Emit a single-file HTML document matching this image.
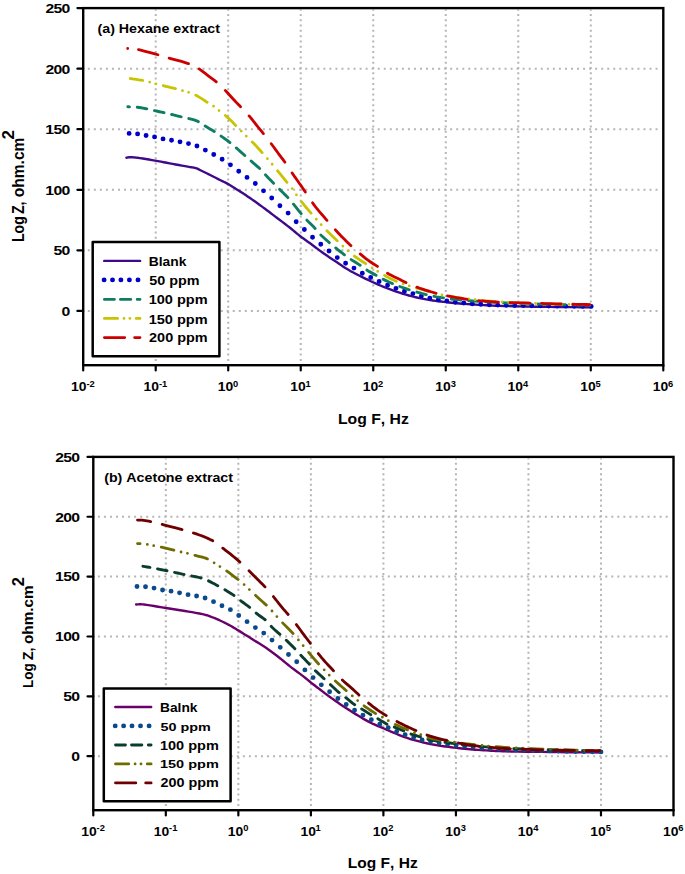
<!DOCTYPE html>
<html><head><meta charset="utf-8"><style>
html,body{margin:0;padding:0;background:#fff;}
svg{display:block;}
text{font-family:"Liberation Sans", sans-serif;font-weight:bold;font-kerning:none;}
</style></head><body>
<svg width="685" height="874" viewBox="0 0 685 874">
<rect width="685" height="874" fill="#fff"/>
<line x1="81.75" y1="310.90" x2="661.30" y2="310.90" stroke="#b6b6b6" stroke-width="2" stroke-dasharray="2 4.04"/>
<line x1="81.75" y1="250.34" x2="661.30" y2="250.34" stroke="#b6b6b6" stroke-width="2" stroke-dasharray="2 4.04"/>
<line x1="81.75" y1="189.78" x2="661.30" y2="189.78" stroke="#b6b6b6" stroke-width="2" stroke-dasharray="2 4.04"/>
<line x1="81.75" y1="129.22" x2="661.30" y2="129.22" stroke="#b6b6b6" stroke-width="2" stroke-dasharray="2 4.04"/>
<line x1="81.75" y1="68.66" x2="661.30" y2="68.66" stroke="#b6b6b6" stroke-width="2" stroke-dasharray="2 4.04"/>
<line x1="155.71" y1="366.20" x2="155.71" y2="9.60" stroke="#b6b6b6" stroke-width="2" stroke-dasharray="2 3.307"/>
<line x1="228.22" y1="366.20" x2="228.22" y2="9.60" stroke="#b6b6b6" stroke-width="2" stroke-dasharray="2 3.307"/>
<line x1="300.74" y1="366.20" x2="300.74" y2="9.60" stroke="#b6b6b6" stroke-width="2" stroke-dasharray="2 3.307"/>
<line x1="373.25" y1="366.20" x2="373.25" y2="9.60" stroke="#b6b6b6" stroke-width="2" stroke-dasharray="2 3.307"/>
<line x1="445.76" y1="366.20" x2="445.76" y2="9.60" stroke="#b6b6b6" stroke-width="2" stroke-dasharray="2 3.307"/>
<line x1="518.27" y1="366.20" x2="518.27" y2="9.60" stroke="#b6b6b6" stroke-width="2" stroke-dasharray="2 3.307"/>
<line x1="590.79" y1="366.20" x2="590.79" y2="9.60" stroke="#b6b6b6" stroke-width="2" stroke-dasharray="2 3.307"/>
<line x1="91.85" y1="756.20" x2="671.50" y2="756.20" stroke="#b6b6b6" stroke-width="2" stroke-dasharray="2 4.04"/>
<line x1="91.85" y1="696.34" x2="671.50" y2="696.34" stroke="#b6b6b6" stroke-width="2" stroke-dasharray="2 4.04"/>
<line x1="91.85" y1="636.48" x2="671.50" y2="636.48" stroke="#b6b6b6" stroke-width="2" stroke-dasharray="2 4.04"/>
<line x1="91.85" y1="576.62" x2="671.50" y2="576.62" stroke="#b6b6b6" stroke-width="2" stroke-dasharray="2 4.04"/>
<line x1="91.85" y1="516.76" x2="671.50" y2="516.76" stroke="#b6b6b6" stroke-width="2" stroke-dasharray="2 4.04"/>
<line x1="165.82" y1="811.20" x2="165.82" y2="458.40" stroke="#b6b6b6" stroke-width="2" stroke-dasharray="2 3.25"/>
<line x1="238.35" y1="811.20" x2="238.35" y2="458.40" stroke="#b6b6b6" stroke-width="2" stroke-dasharray="2 3.25"/>
<line x1="310.88" y1="811.20" x2="310.88" y2="458.40" stroke="#b6b6b6" stroke-width="2" stroke-dasharray="2 3.25"/>
<line x1="383.40" y1="811.20" x2="383.40" y2="458.40" stroke="#b6b6b6" stroke-width="2" stroke-dasharray="2 3.25"/>
<line x1="455.93" y1="811.20" x2="455.93" y2="458.40" stroke="#b6b6b6" stroke-width="2" stroke-dasharray="2 3.25"/>
<line x1="528.45" y1="811.20" x2="528.45" y2="458.40" stroke="#b6b6b6" stroke-width="2" stroke-dasharray="2 3.25"/>
<line x1="600.98" y1="811.20" x2="600.98" y2="458.40" stroke="#b6b6b6" stroke-width="2" stroke-dasharray="2 3.25"/>
<path d="M126.40,157.70 L127.07,157.61 L127.73,157.50 L128.38,157.40 L129.05,157.30 L129.75,157.24 L130.50,157.20 L131.52,157.21 L132.58,157.26 L133.69,157.36 L134.87,157.48 L136.13,157.63 L137.50,157.80 L139.96,158.13 L142.75,158.55 L145.76,159.03 L148.88,159.55 L151.99,160.08 L155.00,160.60 L157.93,161.12 L160.87,161.67 L163.80,162.23 L166.74,162.79 L169.67,163.35 L172.60,163.90 L175.63,164.46 L178.80,165.04 L181.96,165.62 L184.99,166.17 L187.75,166.67 L190.10,167.10 L191.21,167.28 L192.19,167.42 L193.09,167.54 L193.94,167.67 L194.80,167.85 L195.70,168.10 L196.74,168.47 L197.79,168.92 L198.84,169.42 L199.89,169.95 L200.95,170.49 L202.00,171.00 L203.04,171.49 L204.06,171.98 L205.08,172.47 L206.13,172.98 L207.23,173.52 L208.40,174.10 L210.16,174.98 L212.09,175.96 L214.11,177.00 L216.16,178.04 L218.14,179.06 L220.00,180.00 L221.44,180.72 L222.82,181.38 L224.17,182.03 L225.49,182.68 L226.83,183.36 L228.20,184.10 L229.75,184.99 L231.33,185.94 L232.92,186.93 L234.51,187.93 L236.07,188.93 L237.60,189.90 L238.98,190.77 L240.33,191.62 L241.66,192.47 L242.99,193.32 L244.33,194.19 L245.70,195.10 L247.23,196.13 L248.78,197.19 L250.35,198.27 L251.93,199.37 L253.52,200.48 L255.10,201.60 L256.75,202.77 L258.41,203.97 L260.07,205.18 L261.73,206.39 L263.38,207.60 L265.00,208.80 L266.50,209.92 L267.94,211.00 L269.37,212.08 L270.83,213.19 L272.36,214.35 L274.00,215.60 L276.45,217.45 L279.14,219.48 L281.96,221.61 L284.79,223.76 L287.51,225.85 L290.00,227.80 L291.80,229.25 L293.48,230.64 L295.09,232.00 L296.68,233.33 L298.30,234.66 L300.00,236.00 L301.88,237.42 L303.82,238.84 L305.78,240.25 L307.76,241.66 L309.74,243.08 L311.70,244.50 L313.65,245.95 L315.60,247.42 L317.54,248.89 L319.49,250.35 L321.44,251.79 L323.40,253.20 L325.32,254.54 L327.25,255.85 L329.19,257.15 L331.12,258.43 L333.06,259.71 L335.00,261.00 L336.97,262.33 L338.98,263.70 L340.99,265.07 L342.97,266.40 L344.89,267.66 L346.70,268.80 L348.00,269.58 L349.20,270.28 L350.35,270.94 L351.53,271.58 L352.79,272.26 L354.20,273.00 L356.52,274.21 L359.10,275.53 L361.85,276.92 L364.69,278.32 L367.53,279.69 L370.30,281.00 L372.95,282.23 L375.58,283.43 L378.22,284.61 L380.88,285.76 L383.60,286.89 L386.40,288.00 L389.57,289.20 L392.87,290.40 L396.22,291.56 L399.58,292.68 L402.90,293.74 L406.10,294.70 L408.85,295.48 L411.53,296.19 L414.18,296.85 L416.81,297.47 L419.44,298.05 L422.10,298.60 L424.77,299.12 L427.45,299.59 L430.14,300.03 L432.83,300.44 L435.51,300.83 L438.20,301.20 L440.87,301.55 L443.53,301.88 L446.20,302.18 L448.86,302.47 L451.53,302.74 L454.20,303.00 L456.88,303.25 L459.56,303.48 L462.24,303.70 L464.93,303.91 L467.62,304.11 L470.30,304.30 L473.00,304.49 L475.72,304.67 L478.43,304.84 L481.13,305.00 L483.79,305.16 L486.40,305.30 L488.67,305.42 L490.82,305.53 L492.94,305.63 L495.11,305.72 L497.44,305.81 L500.00,305.90 L504.32,306.03 L509.13,306.16 L514.27,306.28 L519.57,306.40 L524.86,306.50 L530.00,306.60 L535.00,306.69 L539.99,306.76 L544.98,306.83 L549.97,306.89 L554.98,306.94 L560.00,307.00 L565.11,307.06 L570.24,307.11 L575.37,307.16 L580.52,307.20 L585.66,307.25 L590.80,307.30" fill="none" stroke="#3f0a8a" stroke-width="2.4" stroke-linejoin="round" stroke-linecap="round"/>
<path d="M129.10,133.40l0.01,0M137.59,133.91l0.01,0M146.08,135.43l0.01,0M154.56,136.91l0.01,0M163.03,138.92l0.01,0M171.52,140.32l0.01,0M180.00,141.84l0.01,0M188.48,143.62l0.01,0M196.94,146.00l0.01,0M205.35,150.08l0.01,0M213.73,154.57l0.01,0M222.11,159.31l0.01,0M230.44,164.84l0.01,0M238.72,171.21l0.01,0M247.01,177.38l0.01,0M255.30,183.54l0.01,0M263.50,190.87l0.01,0M271.72,198.02l0.01,0M279.89,205.82l0.01,0M288.10,213.12l0.01,0M296.18,221.78l0.01,0M304.36,229.51l0.01,0M312.53,237.19l0.01,0M320.76,244.19l0.01,0M329.01,250.95l0.01,0M337.27,257.60l0.01,0M345.59,263.32l0.01,0M353.96,268.10l0.01,0M362.31,273.32l0.01,0M370.71,277.55l0.01,0M379.12,281.51l0.01,0M387.54,285.22l0.01,0M395.98,288.36l0.01,0M404.43,291.28l0.01,0M412.90,293.59l0.01,0M421.36,296.12l0.01,0M429.83,298.11l0.01,0M438.31,299.82l0.01,0M446.80,301.04l0.01,0M455.29,302.23l0.01,0M463.78,303.02l0.01,0M472.27,303.71l0.01,0M480.76,304.30l0.01,0M489.26,304.80l0.01,0M497.75,305.10l0.01,0M506.25,305.29l0.01,0M514.74,305.45l0.01,0M523.24,305.59l0.01,0M531.73,305.73l0.01,0M540.23,305.85l0.01,0M548.72,305.96l0.01,0M557.22,306.07l0.01,0M565.71,306.16l0.01,0M574.20,306.24l0.01,0M582.70,306.32l0.01,0M591.19,306.40l0.01,0" fill="none" stroke="#0000cc" stroke-width="4.9" stroke-linejoin="round" stroke-linecap="round"/>
<path d="M127.84,106.73 L128.38,106.78 L129.37,106.87 L129.47,106.88M137.24,107.28 L137.50,107.30 L139.16,107.51 L141.05,107.79 L143.05,108.13 L145.05,108.50 L146.82,108.84M154.45,110.62 L155.56,110.87 L157.46,111.28 L159.47,111.71 L161.47,112.13 L163.36,112.54 L164.01,112.68M171.64,114.50 L173.39,114.93 L175.30,115.40 L177.22,115.87 L179.05,116.31 L180.70,116.70 L181.17,116.80M188.80,118.55 L190.16,118.89 L192.14,119.40 L194.09,119.96 L195.91,120.56 L197.50,121.20 L198.31,121.62M205.18,126.11 L205.99,126.59 L207.97,127.74 L209.97,128.91 L211.88,130.04 L213.60,131.10 L214.26,131.53M221.07,136.13 L221.44,136.39 L222.93,137.40 L224.46,138.46 L226.05,139.58 L227.69,140.79 L229.40,142.10 L229.91,142.52M236.31,147.96 L237.79,149.27 L240.70,151.86 L243.39,154.26 L244.77,155.48M251.12,161.00 L251.80,161.60 L253.45,163.04 L255.29,164.63 L257.20,166.30 L259.09,167.96 L259.63,168.46M265.49,174.75 L265.64,174.93 L266.40,175.80 L267.70,177.22 L269.15,178.75 L270.70,180.37 L272.33,182.05 L273.58,183.33M279.62,189.37 L279.86,189.61 L282.06,191.73 L284.28,193.91 L286.47,196.13 L287.84,197.59M293.52,204.19 L295.31,206.41 L297.45,209.10 L299.44,211.57 L301.15,213.64M306.90,220.13 L307.44,220.70 L308.94,222.20 L310.51,223.75 L312.08,225.30 L313.57,226.80 L314.90,228.20 L315.11,228.44M320.86,234.96 L321.11,235.21 L322.71,236.72 L324.42,238.28 L326.14,239.82 L327.79,241.28 L329.30,242.60 L329.30,242.60M335.73,247.99 L336.58,248.67 L338.34,250.07 L340.19,251.51 L342.04,252.95 L343.81,254.30 L344.44,254.78M351.15,259.60 L352.70,260.61 L354.62,261.83 L356.65,263.10 L358.68,264.37 L360.16,265.31M366.92,270.05 L367.90,270.70 L369.47,271.64 L371.23,272.62 L373.09,273.62 L374.94,274.60 L376.08,275.20M383.14,279.20 L383.90,279.60 L385.42,280.37 L387.06,281.16 L388.79,281.97 L390.60,282.79 L392.42,283.57M399.81,286.50 L401.86,287.25 L404.52,288.19 L407.24,289.11 L409.24,289.76M416.78,292.07 L419.82,292.94 L423.22,293.86 L426.29,294.63M433.94,296.30 L436.65,296.81 L439.98,297.36 L443.32,297.87 L443.52,297.90M451.24,298.96 L453.28,299.21 L456.51,299.58 L459.74,299.91 L460.85,300.01M468.61,300.69 L470.00,300.80 L474.65,301.15 L478.22,301.39M485.99,301.86 L489.77,302.07 L494.93,302.34 L495.61,302.38M503.38,302.76 L505.00,302.84 L510.00,303.06 L513.00,303.18M520.77,303.48 L525.00,303.63 L530.00,303.80 L530.39,303.81M538.16,304.05 L539.98,304.10 L544.97,304.24 L547.79,304.31M555.56,304.50 L560.00,304.60 L565.11,304.71 L565.19,304.71M572.96,304.87 L575.37,304.91 L580.52,305.01 L582.59,305.05M589.85,305.18l0.01,0" fill="none" stroke="#0e7d62" stroke-width="2.9" stroke-linejoin="round" stroke-linecap="round"/>
<path d="M130.29,78.52 L131.26,78.65 L132.40,78.82 L133.60,79.01 L134.81,79.21 L136.00,79.40 L137.30,79.60 L138.64,79.81 L140.00,80.02 L141.35,80.24 L142.65,80.46M149.71,82.08l0.01,0M155.87,83.87l0.01,0M163.21,85.71 L165.64,86.29 L168.28,86.92 L170.93,87.55 L173.40,88.16 L175.48,88.69M182.47,90.71l0.01,0M188.65,92.33l0.01,0M195.76,95.16 L196.47,95.54 L197.65,96.21 L198.83,96.90 L200.00,97.60 L201.21,98.35 L202.43,99.13 L203.64,99.94 L204.84,100.75 L206.03,101.55 L207.15,102.27M213.59,106.21l0.01,0M218.99,110.54l0.01,0M225.36,115.46 L226.42,116.36 L227.55,117.37 L228.68,118.41 L229.80,119.47 L230.91,120.54 L232.00,121.60 L233.05,122.66 L234.09,123.75 L235.11,124.84 L235.66,125.43M241.26,131.03l0.01,0M246.25,136.15l0.01,0M252.18,141.93 L253.04,142.74 L254.10,143.80 L255.83,145.62 L257.76,147.73 L259.79,149.99 L261.79,152.23 L262.11,152.60M267.44,158.64l0.01,0M272.14,164.24l0.01,0M277.55,170.76 L278.00,171.30 L279.53,173.17 L281.34,175.39 L283.28,177.77 L285.21,180.16 L286.98,182.34M292.15,188.60l0.01,0M296.42,194.78l0.01,0M301.49,201.74 L302.87,203.47 L304.60,205.59 L306.39,207.73 L308.23,209.90 L310.10,212.10 L311.03,213.18M316.31,219.27l0.01,0M321.15,224.66l0.01,0M326.90,230.71 L327.93,231.76 L330.04,233.87 L332.17,235.96 L334.35,238.06 L336.60,240.20 L337.18,240.76M342.91,246.19l0.01,0M348.11,250.93l0.01,0M354.40,256.06 L355.11,256.61 L357.63,258.39 L360.16,260.10 L362.71,261.77 L365.29,263.42 L365.67,263.67M372.05,267.79l0.01,0M377.73,271.40l0.01,0M384.52,275.40 L384.70,275.50 L387.23,276.87 L389.72,278.16 L392.21,279.39 L394.72,280.57 L396.28,281.25M403.11,283.94l0.01,0M409.24,285.90l0.01,0M416.54,288.00 L416.62,288.03 L420.00,289.00 L423.33,289.98 L426.65,290.96 L428.73,291.56M435.73,293.48l0.01,0M441.94,294.90l0.01,0M449.36,296.24 L449.98,296.34 L453.32,296.84 L456.66,297.33 L460.00,297.80 L461.73,298.04M468.87,298.97l0.01,0M475.15,299.69l0.01,0M482.61,300.45 L483.28,300.52 L486.51,300.80 L489.74,301.07 L493.03,301.32 L495.02,301.46M502.19,301.93l0.01,0M508.49,302.30l0.01,0M515.97,302.68 L519.77,302.86 L524.93,303.09 L528.39,303.23M535.57,303.51l0.01,0M541.87,303.71l0.01,0M549.36,303.92 L549.97,303.94 L554.98,304.07 L560.00,304.20 L561.79,304.25M568.96,304.42l0.01,0M575.26,304.56l0.01,0M582.75,304.72 L585.66,304.79 L589.40,304.87" fill="none" stroke="#c8c400" stroke-width="2.8" stroke-linejoin="round" stroke-linecap="round"/>
<path d="M127.68,48.51l0.01,0M138.48,49.64 L139.78,49.92 L143.32,50.79 L147.22,51.82 L151.18,52.90 L154.87,53.92 L157.89,54.77M169.14,58.09 L169.86,58.29 L173.56,59.29 L177.53,60.36 L181.50,61.46 L185.18,62.56 L188.30,63.60 L188.48,63.67M199.15,68.90 L200.15,69.59 L201.84,70.84 L203.54,72.14 L205.26,73.47 L207.00,74.80 L208.97,76.27 L211.02,77.78 L213.09,79.32 L215.12,80.89 L216.27,81.80M225.28,90.39 L225.51,90.63 L226.80,92.00 L228.16,93.46 L229.51,94.94 L230.86,96.45 L232.22,97.96 L233.60,99.48 L235.00,101.00 L236.53,102.60 L238.10,104.21 L239.70,105.84 L240.55,106.70M249.11,115.93 L250.17,117.16 L251.30,118.50 L252.43,119.88 L253.53,121.27 L254.62,122.67 L255.72,124.09 L256.84,125.53 L258.00,127.00 L259.36,128.69 L260.79,130.45 L262.24,132.23 L263.39,133.64M271.24,143.72 L272.20,145.00 L273.30,146.49 L274.42,148.02 L275.56,149.58 L276.70,151.15 L277.85,152.73 L279.00,154.30 L280.20,155.92 L281.44,157.56 L282.69,159.21 L283.91,160.84 L284.93,162.22M292.12,173.00 L293.00,174.28 L293.98,175.69 L294.98,177.11 L295.99,178.55 L297.00,180.00 L298.10,181.57 L299.23,183.18 L300.37,184.80 L301.50,186.42 L302.62,188.02 L303.70,189.60 L304.66,191.04 L305.33,192.06M312.55,202.81 L313.65,204.35 L314.80,205.93 L316.00,207.50 L317.35,209.19 L318.77,210.89 L320.23,212.59 L321.70,214.28 L323.13,215.92 L324.50,217.50 L325.62,218.80 L326.68,220.05 L326.96,220.37M335.35,229.82 L335.38,229.85 L336.91,231.52 L338.46,233.18 L340.00,234.80 L341.55,236.41 L343.12,238.01 L344.71,239.61 L346.29,241.18 L347.86,242.72 L349.40,244.20 L350.74,245.48 L350.93,245.65M360.17,253.89 L360.78,254.41 L362.55,255.90 L364.35,257.38 L366.17,258.82 L368.00,260.20 L369.83,261.50 L371.72,262.76 L373.62,263.98 L375.51,265.18 L377.35,266.35 L377.45,266.42M387.49,273.27 L389.17,274.21 L391.30,275.34 L393.52,276.45 L395.76,277.54 L397.94,278.59 L400.00,279.60 L401.63,280.41 L403.21,281.20 L404.75,281.96 L405.98,282.56M416.88,287.15 L418.10,287.60 L419.84,288.22 L421.64,288.84 L423.47,289.45 L425.32,290.05 L427.17,290.64 L429.00,291.20 L430.81,291.74 L432.64,292.28 L434.46,292.79 L436.13,293.25M447.50,295.88 L448.60,296.10 L450.42,296.46 L452.31,296.82 L454.24,297.19 L456.18,297.54 L458.11,297.88 L460.00,298.20 L461.76,298.48 L463.52,298.75 L465.26,299.01 L466.98,299.26 L467.13,299.28M478.66,300.64 L480.13,300.78 L482.07,300.95 L484.07,301.13 L486.08,301.30 L488.08,301.46 L490.00,301.60 L491.65,301.72 L493.19,301.83 L494.71,301.92 L496.30,302.02 L498.03,302.11 L498.44,302.13M510.02,302.55 L514.02,302.66 L519.45,302.81 L524.88,302.95 L529.83,303.09M541.42,303.45 L545.39,303.57 L550.49,303.72 L555.60,303.87 L560.70,304.00 L561.22,304.01M572.81,304.26 L575.95,304.32 L581.04,304.41 L586.12,304.50 L589.80,304.57" fill="none" stroke="#cc0000" stroke-width="2.8" stroke-linejoin="round" stroke-linecap="round"/>
<path d="M136.10,604.50 L136.75,604.46 L137.40,604.42 L138.05,604.38 L138.70,604.34 L139.35,604.31 L140.00,604.30 L140.63,604.30 L141.21,604.31 L141.80,604.33 L142.43,604.36 L143.15,604.42 L144.00,604.50 L146.65,604.84 L150.06,605.36 L153.95,606.00 L158.06,606.70 L162.13,607.38 L165.90,608.00 L169.15,608.51 L172.34,608.99 L175.50,609.47 L178.64,609.96 L181.80,610.46 L185.00,611.00 L188.46,611.59 L192.09,612.19 L195.73,612.82 L199.24,613.46 L202.48,614.12 L205.30,614.80 L206.81,615.23 L208.17,615.67 L209.42,616.11 L210.61,616.56 L211.79,617.02 L213.00,617.50 L214.18,617.97 L215.32,618.43 L216.46,618.91 L217.60,619.41 L218.77,619.94 L220.00,620.50 L221.58,621.24 L223.24,622.04 L224.95,622.88 L226.67,623.75 L228.37,624.63 L230.00,625.50 L231.46,626.31 L232.86,627.12 L234.24,627.94 L235.63,628.78 L237.07,629.66 L238.60,630.60 L240.66,631.87 L242.84,633.23 L245.10,634.65 L247.41,636.10 L249.72,637.56 L252.00,639.00 L254.32,640.44 L256.66,641.87 L259.00,643.30 L261.35,644.76 L263.68,646.26 L266.00,647.80 L268.39,649.46 L270.79,651.20 L273.18,652.97 L275.54,654.75 L277.82,656.51 L280.00,658.20 L281.77,659.61 L283.44,660.99 L285.06,662.34 L286.66,663.69 L288.30,665.04 L290.00,666.40 L291.89,667.84 L293.82,669.28 L295.79,670.72 L297.77,672.16 L299.75,673.62 L301.70,675.10 L303.69,676.66 L305.70,678.28 L307.71,679.91 L309.69,681.52 L311.59,683.06 L313.40,684.50 L314.75,685.55 L316.02,686.53 L317.25,687.47 L318.47,688.40 L319.71,689.33 L321.00,690.30 L322.44,691.39 L323.89,692.48 L325.37,693.59 L326.88,694.71 L328.42,695.85 L330.00,697.00 L331.88,698.35 L333.85,699.76 L335.87,701.18 L337.88,702.59 L339.84,703.94 L341.70,705.20 L343.14,706.16 L344.51,707.06 L345.85,707.92 L347.17,708.77 L348.52,709.62 L349.90,710.50 L351.40,711.46 L352.92,712.42 L354.46,713.39 L356.02,714.36 L357.59,715.33 L359.20,716.30 L360.92,717.32 L362.65,718.35 L364.41,719.38 L366.21,720.39 L368.07,721.40 L370.00,722.40 L372.36,723.54 L374.86,724.67 L377.44,725.79 L380.03,726.89 L382.57,727.96 L385.00,729.00 L387.03,729.88 L389.00,730.74 L390.93,731.58 L392.84,732.40 L394.76,733.21 L396.70,734.00 L398.64,734.78 L400.59,735.55 L402.53,736.30 L404.48,737.03 L406.44,737.73 L408.40,738.40 L410.35,739.02 L412.32,739.61 L414.30,740.17 L416.26,740.70 L418.20,741.21 L420.10,741.70 L421.78,742.13 L423.40,742.53 L425.00,742.92 L426.62,743.29 L428.27,743.65 L430.00,744.00 L432.07,744.40 L434.21,744.78 L436.40,745.15 L438.63,745.51 L440.90,745.86 L443.20,746.20 L445.77,746.56 L448.41,746.92 L451.10,747.26 L453.80,747.59 L456.51,747.90 L459.20,748.20 L461.88,748.48 L464.56,748.76 L467.24,749.01 L469.93,749.26 L472.61,749.48 L475.30,749.70 L478.00,749.90 L480.72,750.08 L483.43,750.25 L486.13,750.41 L488.79,750.56 L491.40,750.70 L493.64,750.82 L495.72,750.93 L497.78,751.03 L499.92,751.12 L502.29,751.21 L505.00,751.30 L510.95,751.45 L517.96,751.58 L525.69,751.70 L533.82,751.80 L542.03,751.90 L550.00,752.00 L558.32,752.10 L566.76,752.19 L575.30,752.27 L583.88,752.34 L592.46,752.42 L601.00,752.50" fill="none" stroke="#6a006a" stroke-width="2.4" stroke-linejoin="round" stroke-linecap="round"/>
<path d="M137.00,586.50l0.01,0M145.52,586.78l0.01,0M154.03,588.11l0.01,0M162.54,589.93l0.01,0M171.05,591.13l0.01,0M179.56,592.83l0.01,0M188.06,594.65l0.01,0M196.57,596.04l0.01,0M205.07,597.97l0.01,0M213.52,601.67l0.01,0M221.95,605.73l0.01,0M230.39,609.63l0.01,0M238.73,615.50l0.01,0M247.05,621.63l0.01,0M255.38,627.60l0.01,0M263.74,633.08l0.01,0M272.00,640.10l0.01,0M280.24,647.36l0.01,0M288.48,654.52l0.01,0M296.72,661.80l0.01,0M304.89,669.89l0.01,0M313.09,677.60l0.01,0M321.33,684.83l0.01,0M329.60,691.68l0.01,0M337.88,698.45l0.01,0M346.20,704.49l0.01,0M354.55,710.27l0.01,0M362.94,715.13l0.01,0M371.35,719.65l0.01,0M379.77,724.19l0.01,0M388.22,727.73l0.01,0M396.67,731.49l0.01,0M405.13,734.66l0.01,0M413.61,737.61l0.01,0M422.10,739.90l0.01,0M430.61,741.54l0.01,0M439.12,742.92l0.01,0M447.64,744.17l0.01,0M456.15,745.28l0.01,0M464.67,746.25l0.01,0M473.18,747.09l0.01,0M481.70,747.84l0.01,0M490.22,748.48l0.01,0M498.74,749.01l0.01,0M507.26,749.46l0.01,0M515.78,749.85l0.01,0M524.30,750.17l0.01,0M532.82,750.44l0.01,0M541.35,750.67l0.01,0M549.87,750.90l0.01,0M558.39,751.10l0.01,0M566.91,751.28l0.01,0M575.43,751.44l0.01,0M583.95,751.59l0.01,0M592.47,751.74l0.01,0M600.99,751.90l0.01,0" fill="none" stroke="#0a4a8c" stroke-width="4.9" stroke-linejoin="round" stroke-linecap="round"/>
<path d="M142.93,566.32 L143.32,566.38 L145.19,566.67 L147.06,566.96 L148.88,567.24 L149.91,567.41M157.54,568.90 L158.00,569.00 L159.70,569.34 L161.61,569.72 L163.62,570.11 L165.62,570.50 L167.00,570.78M174.61,572.38 L175.43,572.56 L177.31,572.99 L179.32,573.45 L181.33,573.91 L183.24,574.34 L184.05,574.52M191.68,576.00 L191.76,576.02 L193.64,576.37 L195.64,576.75 L197.64,577.15 L199.53,577.57 L201.14,577.98M208.53,580.86 L210.46,581.84 L212.58,582.95 L214.69,584.09 L216.67,585.17 L217.75,585.75M224.85,589.68 L225.38,590.00 L227.29,591.15 L229.32,592.40 L231.32,593.67 L233.19,594.89 L233.99,595.44M240.66,600.68 L241.18,601.08 L243.15,602.52 L245.26,604.06 L247.38,605.62 L249.37,607.13 L249.66,607.36M256.11,613.08 L256.60,613.50 L258.16,614.71 L259.93,615.97 L261.80,617.27 L263.65,618.59 L265.17,619.74M271.18,626.29 L272.00,627.20 L273.38,628.55 L274.92,629.97 L276.54,631.40 L278.18,632.83 L279.76,634.21 L279.94,634.37M286.29,640.22 L287.00,640.90 L288.49,642.34 L290.12,643.94 L291.80,645.61 L293.47,647.28 L294.88,648.72M300.87,655.28 L301.99,656.47 L303.45,658.00 L304.99,659.59 L306.54,661.19 L308.00,662.72 L309.30,664.10 L309.38,664.19M315.41,670.69 L316.90,672.11 L318.74,673.83 L320.59,675.55 L322.35,677.16 L323.90,678.60 L324.11,678.79M330.44,684.65 L331.90,686.03 L333.48,687.52 L335.09,689.03 L336.68,690.48 L338.20,691.80 L339.14,692.58M345.80,697.71 L347.06,698.71 L348.84,700.15 L350.68,701.62 L352.49,703.06 L354.23,704.38 L354.69,704.71M361.66,708.95 L362.77,709.63 L364.65,710.84 L366.65,712.12 L368.65,713.40 L370.54,714.59 L370.77,714.73M377.83,718.75 L379.06,719.48 L380.95,720.64 L382.95,721.88 L384.95,723.08 L386.84,724.16 L386.96,724.22M394.32,727.06 L395.09,727.36 L397.05,728.14 L399.14,728.99 L401.23,729.86 L403.19,730.68 L403.66,730.87M411.00,734.02 L411.75,734.28 L413.63,734.89 L415.64,735.50 L417.64,736.10 L419.54,736.68 L420.43,736.96M427.94,739.32 L429.40,739.66 L432.97,740.34 L437.01,741.03 L437.39,741.10M445.05,742.28 L445.72,742.38 L450.00,743.00 L454.52,743.62M462.20,744.56 L464.76,744.86 L469.86,745.41 L471.68,745.60M479.37,746.34 L480.00,746.40 L484.95,746.82 L488.85,747.12M496.56,747.65 L499.68,747.84 L504.75,748.13 L506.04,748.19M513.75,748.58 L516.28,748.69 L522.73,748.95 L523.23,748.97M530.94,749.23 L536.09,749.39 L540.43,749.52M548.14,749.75 L550.00,749.80 L557.63,750.01M565.34,750.20 L566.54,750.23 L574.82,750.42M582.54,750.59 L583.77,750.61 L592.02,750.80M599.64,750.97l0.01,0" fill="none" stroke="#0b3d2e" stroke-width="2.9" stroke-linejoin="round" stroke-linecap="round"/>
<path d="M137.50,543.57 L138.58,543.61 L139.82,543.66 L140.04,543.67M147.33,544.46l0.01,0M153.72,545.67l0.01,0M161.26,547.15 L162.70,547.48 L165.15,548.06 L167.78,548.71 L170.42,549.36 L172.88,549.97 L173.88,550.22M181.05,552.01l0.01,0M187.43,553.31l0.01,0M194.88,555.41 L195.15,555.47 L196.36,555.74 L197.59,556.01 L198.81,556.30 L200.00,556.60 L201.16,556.90 L202.31,557.19 L203.46,557.48 L204.59,557.81 L205.71,558.18 L206.80,558.60 L207.48,558.91M214.10,562.84l0.01,0M219.91,566.57l0.01,0M226.68,570.96 L226.98,571.16 L229.38,572.92 L231.94,574.83 L234.49,576.76 L236.86,578.60 L238.02,579.51M244.12,584.58l0.01,0M249.36,589.60l0.01,0M255.49,595.34 L256.20,596.00 L258.11,597.73 L260.29,599.68 L262.62,601.75 L264.94,603.84 L266.33,605.13M271.98,610.99l0.01,0M276.88,616.58l0.01,0M282.68,622.86 L282.90,623.10 L284.84,625.13 L286.99,627.33 L289.21,629.59 L291.37,631.82 L293.07,633.59M298.39,639.93l0.01,0M303.16,645.71l0.01,0M308.66,652.41 L308.91,652.71 L310.69,654.82 L312.61,657.09 L314.55,659.37 L316.39,661.49 L318.00,663.30 L318.58,663.93M324.20,669.82l0.01,0M329.22,675.22l0.01,0M335.35,680.96 L336.75,682.23 L338.82,684.10 L340.93,685.97 L342.95,687.77 L344.80,689.40 L346.08,690.52 L346.22,690.64M352.26,695.83l0.01,0M357.63,700.58l0.01,0M364.06,705.80 L365.50,706.86 L368.10,708.68 L370.78,710.48 L373.41,712.18 L375.66,713.59M382.36,717.21l0.01,0M388.27,720.65l0.01,0M395.30,724.40 L397.37,725.38 L399.80,726.49 L402.42,727.67 L405.05,728.83 L407.50,729.90 L407.52,729.91M414.47,732.76l0.01,0M420.75,734.75l0.01,0M428.06,737.55 L430.00,738.05 L433.48,738.80 L437.40,739.54 L440.74,740.11M447.99,741.28l0.01,0M454.40,742.25l0.01,0M461.99,743.27 L464.73,743.62 L469.84,744.22 L474.75,744.76M482.04,745.49l0.01,0M488.48,746.08l0.01,0M496.10,746.68 L499.68,746.94 L504.75,747.28 L508.88,747.53M516.19,747.94l0.01,0M522.64,748.25l0.01,0M530.27,748.57 L536.09,748.80 L542.98,749.05 L543.06,749.05M550.37,749.31l0.01,0M556.82,749.53l0.01,0M564.46,749.77 L566.54,749.83 L575.11,750.08 L577.25,750.14M584.56,750.34l0.01,0M591.02,750.52l0.01,0M598.65,750.73 L599.60,750.76" fill="none" stroke="#6e6c00" stroke-width="2.8" stroke-linejoin="round" stroke-linecap="round"/>
<path d="M137.50,520.03 L138.01,520.03 L138.95,520.04 L139.92,520.06 L140.93,520.11 L142.00,520.20 L143.55,520.38 L145.24,520.62 L147.00,520.91 L148.78,521.23 L150.53,521.56 L150.67,521.59M162.19,524.41 L163.79,524.82 L167.57,525.81 L171.63,526.87 L175.68,527.94 L179.44,528.94 L182.02,529.64M193.44,532.97 L193.86,533.10 L195.48,533.63 L197.08,534.17 L198.60,534.70 L200.00,535.20 L200.96,535.55 L201.85,535.89 L202.69,536.21 L203.52,536.54 L204.38,536.90 L205.30,537.30 L206.53,537.84 L207.83,538.40 L209.16,539.00 L210.52,539.65 L211.87,540.34 L212.75,540.84M222.75,548.14 L223.55,548.74 L225.23,550.01 L226.92,551.30 L228.63,552.61 L230.32,553.94 L232.00,555.30 L233.71,556.72 L235.44,558.18 L237.16,559.67 L238.85,561.16 L239.89,562.09M249.02,570.83 L250.00,571.80 L251.47,573.25 L252.95,574.73 L254.45,576.22 L255.96,577.73 L257.48,579.26 L259.00,580.80 L260.61,582.43 L262.27,584.10 L263.94,585.78 L265.02,586.88M273.44,596.58 L273.76,597.00 L274.80,598.30 L275.96,599.76 L277.13,601.26 L278.32,602.79 L279.52,604.32 L280.75,605.86 L282.00,607.40 L283.38,609.04 L284.83,610.70 L286.30,612.37 L287.76,614.02 L288.17,614.49M296.33,624.51 L296.40,624.60 L297.48,626.04 L298.57,627.52 L299.66,629.02 L300.76,630.54 L301.87,632.07 L303.00,633.60 L304.21,635.21 L305.46,636.86 L306.72,638.51 L307.98,640.14 L309.21,641.75 L310.39,643.29M318.31,653.58 L318.68,654.04 L319.98,655.66 L321.30,657.29 L322.65,658.91 L324.00,660.50 L325.40,662.08 L326.85,663.66 L328.31,665.23 L329.78,666.78 L331.21,668.30 L332.60,669.80 L333.53,670.83M342.33,680.05 L343.90,681.47 L346.32,683.58 L348.73,685.67 L351.00,687.63 L353.00,689.40 L354.18,690.48 L355.24,691.46 L356.24,692.40 L357.22,693.31 L358.22,694.23 L358.99,694.92M368.53,703.04 L369.15,703.54 L370.85,704.91 L372.60,706.29 L374.37,707.66 L376.18,709.00 L378.00,710.30 L379.91,711.60 L381.90,712.88 L383.91,714.14 L385.90,715.36 L386.28,715.59M396.92,721.49 L397.90,722.00 L399.65,722.90 L401.46,723.82 L403.33,724.76 L405.22,725.70 L407.12,726.62 L409.00,727.50 L410.87,728.35 L412.77,729.19 L414.67,730.02 L415.91,730.55M427.03,735.06 L427.70,735.30 L429.31,735.84 L430.98,736.38 L432.70,736.91 L434.45,737.43 L436.22,737.92 L438.00,738.40 L439.91,738.88 L441.87,739.33 L443.85,739.76 L445.82,740.18 L446.84,740.40M458.39,743.00 L458.40,743.00 L460.10,743.34 L461.85,743.67 L463.62,744.00 L465.41,744.31 L467.21,744.61 L469.00,744.90 L470.85,745.18 L472.72,745.46 L474.61,745.72 L476.48,745.97 L478.32,746.20 L478.48,746.22M490.21,747.22 L491.23,747.31 L493.68,747.54 L496.26,747.79 L498.99,748.05 L501.90,748.28 L505.00,748.50 L510.09,748.78 L510.41,748.79M522.16,749.26 L528.08,749.45 L534.23,749.63 L540.10,749.80 L542.40,749.86M554.15,750.13 L555.53,750.16 L560.58,750.25 L565.63,750.33 L570.70,750.40 L574.39,750.44M586.15,750.53 L591.04,750.55 L596.12,750.57 L599.80,750.59" fill="none" stroke="#700000" stroke-width="2.8" stroke-linejoin="round" stroke-linecap="round"/>
<rect x="83.20" y="8.10" width="580.10" height="357.10" fill="none" stroke="#000" stroke-width="2.4"/>
<line x1="77.40" y1="310.90" x2="83.20" y2="310.90" stroke="#000" stroke-width="2.2" stroke-linecap="round"/>
<line x1="77.40" y1="250.34" x2="83.20" y2="250.34" stroke="#000" stroke-width="2.2" stroke-linecap="round"/>
<line x1="77.40" y1="189.78" x2="83.20" y2="189.78" stroke="#000" stroke-width="2.2" stroke-linecap="round"/>
<line x1="77.40" y1="129.22" x2="83.20" y2="129.22" stroke="#000" stroke-width="2.2" stroke-linecap="round"/>
<line x1="77.40" y1="68.66" x2="83.20" y2="68.66" stroke="#000" stroke-width="2.2" stroke-linecap="round"/>
<line x1="77.40" y1="8.10" x2="83.20" y2="8.10" stroke="#000" stroke-width="2.2" stroke-linecap="round"/>
<line x1="83.20" y1="365.20" x2="83.20" y2="370.40" stroke="#000" stroke-width="2.2" stroke-linecap="round"/>
<line x1="155.71" y1="365.20" x2="155.71" y2="370.40" stroke="#000" stroke-width="2.2" stroke-linecap="round"/>
<line x1="228.22" y1="365.20" x2="228.22" y2="370.40" stroke="#000" stroke-width="2.2" stroke-linecap="round"/>
<line x1="300.74" y1="365.20" x2="300.74" y2="370.40" stroke="#000" stroke-width="2.2" stroke-linecap="round"/>
<line x1="373.25" y1="365.20" x2="373.25" y2="370.40" stroke="#000" stroke-width="2.2" stroke-linecap="round"/>
<line x1="445.76" y1="365.20" x2="445.76" y2="370.40" stroke="#000" stroke-width="2.2" stroke-linecap="round"/>
<line x1="518.27" y1="365.20" x2="518.27" y2="370.40" stroke="#000" stroke-width="2.2" stroke-linecap="round"/>
<line x1="590.79" y1="365.20" x2="590.79" y2="370.40" stroke="#000" stroke-width="2.2" stroke-linecap="round"/>
<line x1="663.30" y1="365.20" x2="663.30" y2="370.40" stroke="#000" stroke-width="2.2" stroke-linecap="round"/>
<rect x="93.30" y="456.90" width="580.20" height="353.30" fill="none" stroke="#000" stroke-width="2.4"/>
<line x1="87.50" y1="756.20" x2="93.30" y2="756.20" stroke="#000" stroke-width="2.2" stroke-linecap="round"/>
<line x1="87.50" y1="696.34" x2="93.30" y2="696.34" stroke="#000" stroke-width="2.2" stroke-linecap="round"/>
<line x1="87.50" y1="636.48" x2="93.30" y2="636.48" stroke="#000" stroke-width="2.2" stroke-linecap="round"/>
<line x1="87.50" y1="576.62" x2="93.30" y2="576.62" stroke="#000" stroke-width="2.2" stroke-linecap="round"/>
<line x1="87.50" y1="516.76" x2="93.30" y2="516.76" stroke="#000" stroke-width="2.2" stroke-linecap="round"/>
<line x1="87.50" y1="456.90" x2="93.30" y2="456.90" stroke="#000" stroke-width="2.2" stroke-linecap="round"/>
<line x1="93.30" y1="810.20" x2="93.30" y2="815.40" stroke="#000" stroke-width="2.2" stroke-linecap="round"/>
<line x1="165.82" y1="810.20" x2="165.82" y2="815.40" stroke="#000" stroke-width="2.2" stroke-linecap="round"/>
<line x1="238.35" y1="810.20" x2="238.35" y2="815.40" stroke="#000" stroke-width="2.2" stroke-linecap="round"/>
<line x1="310.88" y1="810.20" x2="310.88" y2="815.40" stroke="#000" stroke-width="2.2" stroke-linecap="round"/>
<line x1="383.40" y1="810.20" x2="383.40" y2="815.40" stroke="#000" stroke-width="2.2" stroke-linecap="round"/>
<line x1="455.93" y1="810.20" x2="455.93" y2="815.40" stroke="#000" stroke-width="2.2" stroke-linecap="round"/>
<line x1="528.45" y1="810.20" x2="528.45" y2="815.40" stroke="#000" stroke-width="2.2" stroke-linecap="round"/>
<line x1="600.98" y1="810.20" x2="600.98" y2="815.40" stroke="#000" stroke-width="2.2" stroke-linecap="round"/>
<line x1="673.50" y1="810.20" x2="673.50" y2="815.40" stroke="#000" stroke-width="2.2" stroke-linecap="round"/>
<rect x="92.70" y="242.00" width="126.70" height="114.30" fill="#fff" stroke="#000" stroke-width="2.5" stroke-linejoin="round"/>
<path d="M104.20,260.90 L140.10,260.90" fill="none" stroke="#3f0a8a" stroke-width="2.4" stroke-linecap="round"/>
<path d="M104.10,279.90l0.01,0M112.50,279.90l0.01,0M120.90,279.90l0.01,0M129.40,279.90l0.01,0M138.00,279.90l0.01,0" fill="none" stroke="#0000cc" stroke-width="4.9" stroke-linecap="round"/>
<path d="M104.45,299.40 L114.35,299.40M120.45,299.40 L130.75,299.40M137.25,299.40 L139.95,299.40" fill="none" stroke="#0e7d62" stroke-width="2.9" stroke-linecap="round"/>
<path d="M104.40,318.40 L117.60,318.40M124.00,318.40l0.01,0M129.90,318.40l0.01,0M136.20,318.40 L140.00,318.40" fill="none" stroke="#c8c400" stroke-width="2.8" stroke-linecap="round"/>
<path d="M104.40,337.60 L124.70,337.60M134.60,337.60 L140.00,337.60" fill="none" stroke="#cc0000" stroke-width="2.8" stroke-linecap="round"/>
<rect x="103.80" y="688.50" width="126.80" height="112.80" fill="#fff" stroke="#000" stroke-width="2.5" stroke-linejoin="round"/>
<path d="M115.30,707.00 L151.20,707.00" fill="none" stroke="#6a006a" stroke-width="2.4" stroke-linecap="round"/>
<path d="M115.20,725.90l0.01,0M123.60,725.90l0.01,0M132.00,725.90l0.01,0M140.50,725.90l0.01,0M149.10,725.90l0.01,0" fill="none" stroke="#0a4a8c" stroke-width="4.9" stroke-linecap="round"/>
<path d="M115.55,745.00 L125.45,745.00M131.55,745.00 L141.85,745.00M148.35,745.00 L151.05,745.00" fill="none" stroke="#0b3d2e" stroke-width="2.9" stroke-linecap="round"/>
<path d="M115.50,763.90 L128.70,763.90M135.10,763.90l0.01,0M141.00,763.90l0.01,0M147.30,763.90 L151.10,763.90" fill="none" stroke="#6e6c00" stroke-width="2.8" stroke-linecap="round"/>
<path d="M115.50,782.90 L135.80,782.90M145.70,782.90 L151.10,782.90" fill="none" stroke="#700000" stroke-width="2.8" stroke-linecap="round"/>
<text transform="translate(148.67,265.80) scale(1.0908,1)" font-size="12.696" fill="#000">Blank</text>
<text transform="translate(149.16,284.70) scale(1.1276,1)" font-size="12.751" fill="#000">50 ppm</text>
<text transform="translate(148.68,304.30) scale(1.1158,1)" font-size="13.037" fill="#000">100 ppm</text>
<text transform="translate(148.68,323.60) scale(1.1037,1)" font-size="13.181" fill="#000">150 ppm</text>
<text transform="translate(149.10,342.40) scale(1.1327,1)" font-size="12.751" fill="#000">200 ppm</text>
<text transform="translate(159.98,711.90) scale(1.1472,1)" font-size="12.006" fill="#000">Balnk</text>
<text transform="translate(160.46,730.70) scale(1.2238,1)" font-size="11.748" fill="#000">50 ppm</text>
<text transform="translate(159.99,749.70) scale(1.2045,1)" font-size="12.034" fill="#000">100 ppm</text>
<text transform="translate(159.99,768.20) scale(1.2339,1)" font-size="11.748" fill="#000">150 ppm</text>
<text transform="translate(160.40,787.40) scale(1.2103,1)" font-size="11.891" fill="#000">200 ppm</text>
<text transform="translate(97.49,33.40) scale(1.0632,1)" font-size="13.372" fill="#000">(a) Hexane extract</text>
<text transform="translate(104.19,482.10) scale(1.0423,1)" font-size="13.663" fill="#000">(b) Acetone extract</text>
<text transform="translate(337.95,423.60) scale(1.0329,1)" font-size="15.262" fill="#000">Log F, Hz</text>
<text transform="translate(347.86,868.00) scale(1.0180,1)" font-size="15.262" fill="#000">Log F, Hz</text>
<text transform="translate(23.70,242.05) rotate(-90) scale(0.8679,1)" font-size="16.279" fill="#000">Log</text>
<text transform="translate(23.70,214.12) rotate(-90) scale(0.8765,1)" font-size="16.279" fill="#000">Z,</text>
<text transform="translate(23.70,197.21) rotate(-90) scale(0.9544,1)" font-size="16.279" fill="#000">ohm.cm</text>
<text transform="translate(14.00,139.59) rotate(-90) scale(1.0710,1)" font-size="15.903" fill="#000">2</text>
<text transform="translate(33.40,687.91) rotate(-90) scale(0.8957,1)" font-size="15.116" fill="#000">Log</text>
<text transform="translate(33.40,660.33) rotate(-90) scale(0.9522,1)" font-size="15.116" fill="#000">Z,</text>
<text transform="translate(33.40,644.10) rotate(-90) scale(1.0155,1)" font-size="15.116" fill="#000">ohm.cm</text>
<text transform="translate(24.20,586.37) rotate(-90) scale(0.9960,1)" font-size="16.476" fill="#000">2</text>
<text transform="translate(61.38,315.80) scale(1.2096,1)" font-size="13.037">0</text>
<text transform="translate(53.41,255.24) scale(1.2096,1)" font-size="13.037">5</text>
<text transform="translate(61.38,255.24) scale(1.2096,1)" font-size="13.037">0</text>
<text transform="translate(45.23,194.68) scale(1.2096,1)" font-size="13.037">1</text>
<text transform="translate(53.45,194.68) scale(1.2096,1)" font-size="13.037">0</text>
<text transform="translate(61.38,194.68) scale(1.2096,1)" font-size="13.037">0</text>
<text transform="translate(45.23,134.12) scale(1.2096,1)" font-size="13.037">1</text>
<text transform="translate(53.41,134.12) scale(1.2096,1)" font-size="13.037">5</text>
<text transform="translate(61.38,134.12) scale(1.2096,1)" font-size="13.037">0</text>
<text transform="translate(45.55,73.56) scale(1.2096,1)" font-size="13.037">2</text>
<text transform="translate(53.45,73.56) scale(1.2096,1)" font-size="13.037">0</text>
<text transform="translate(61.38,73.56) scale(1.2096,1)" font-size="13.037">0</text>
<text transform="translate(45.55,13.00) scale(1.2096,1)" font-size="13.037">2</text>
<text transform="translate(53.41,13.00) scale(1.2096,1)" font-size="13.037">5</text>
<text transform="translate(61.38,13.00) scale(1.2096,1)" font-size="13.037">0</text>
<text transform="translate(71.18,761.05) scale(1.2231,1)" font-size="12.894">0</text>
<text transform="translate(63.21,701.19) scale(1.2231,1)" font-size="12.894">5</text>
<text transform="translate(71.18,701.19) scale(1.2231,1)" font-size="12.894">0</text>
<text transform="translate(55.03,641.33) scale(1.2231,1)" font-size="12.894">1</text>
<text transform="translate(63.25,641.33) scale(1.2231,1)" font-size="12.894">0</text>
<text transform="translate(71.18,641.33) scale(1.2231,1)" font-size="12.894">0</text>
<text transform="translate(55.03,581.47) scale(1.2231,1)" font-size="12.894">1</text>
<text transform="translate(63.21,581.47) scale(1.2231,1)" font-size="12.894">5</text>
<text transform="translate(71.18,581.47) scale(1.2231,1)" font-size="12.894">0</text>
<text transform="translate(55.35,521.61) scale(1.2231,1)" font-size="12.894">2</text>
<text transform="translate(63.25,521.61) scale(1.2231,1)" font-size="12.894">0</text>
<text transform="translate(71.18,521.61) scale(1.2231,1)" font-size="12.894">0</text>
<text transform="translate(55.35,461.75) scale(1.2231,1)" font-size="12.894">2</text>
<text transform="translate(63.21,461.75) scale(1.2231,1)" font-size="12.894">5</text>
<text transform="translate(71.18,461.75) scale(1.2231,1)" font-size="12.894">0</text>
<text transform="translate(71.11,391.00) scale(1.0688,1)" font-size="13.037">10</text>
<text transform="translate(86.47,386.60) scale(1.1251,1)" font-size="8.309">-2</text>
<text transform="translate(143.57,391.00) scale(1.0688,1)" font-size="13.037">10</text>
<text transform="translate(158.93,386.60) scale(1.1251,1)" font-size="8.309">-1</text>
<text transform="translate(217.70,391.00) scale(1.0688,1)" font-size="13.037">10</text>
<text transform="translate(233.06,386.60) scale(1.1251,1)" font-size="8.309">0</text>
<text transform="translate(290.26,391.00) scale(1.0688,1)" font-size="13.037">10</text>
<text transform="translate(305.40,386.60) scale(1.1251,1)" font-size="8.309">1</text>
<text transform="translate(362.70,391.00) scale(1.0688,1)" font-size="13.037">10</text>
<text transform="translate(378.10,386.60) scale(1.1251,1)" font-size="8.309">2</text>
<text transform="translate(435.14,391.00) scale(1.0688,1)" font-size="13.037">10</text>
<text transform="translate(450.65,386.60) scale(1.1251,1)" font-size="8.309">3</text>
<text transform="translate(507.47,391.00) scale(1.0688,1)" font-size="13.037">10</text>
<text transform="translate(523.05,386.60) scale(1.1251,1)" font-size="8.309">4</text>
<text transform="translate(580.16,391.00) scale(1.0688,1)" font-size="13.037">10</text>
<text transform="translate(595.60,386.60) scale(1.1251,1)" font-size="8.309">5</text>
<text transform="translate(652.74,391.00) scale(1.0688,1)" font-size="13.037">10</text>
<text transform="translate(668.12,386.60) scale(1.1251,1)" font-size="8.309">6</text>
<text transform="translate(81.21,835.80) scale(1.0688,1)" font-size="13.037">10</text>
<text transform="translate(96.57,831.40) scale(1.1251,1)" font-size="8.309">-2</text>
<text transform="translate(153.68,835.80) scale(1.0688,1)" font-size="13.037">10</text>
<text transform="translate(169.04,831.40) scale(1.1251,1)" font-size="8.309">-1</text>
<text transform="translate(227.82,835.80) scale(1.0688,1)" font-size="13.037">10</text>
<text transform="translate(243.18,831.40) scale(1.1251,1)" font-size="8.309">0</text>
<text transform="translate(300.40,835.80) scale(1.0688,1)" font-size="13.037">10</text>
<text transform="translate(315.54,831.40) scale(1.1251,1)" font-size="8.309">1</text>
<text transform="translate(372.85,835.80) scale(1.0688,1)" font-size="13.037">10</text>
<text transform="translate(388.25,831.40) scale(1.1251,1)" font-size="8.309">2</text>
<text transform="translate(445.30,835.80) scale(1.0688,1)" font-size="13.037">10</text>
<text transform="translate(460.81,831.40) scale(1.1251,1)" font-size="8.309">3</text>
<text transform="translate(517.64,835.80) scale(1.0688,1)" font-size="13.037">10</text>
<text transform="translate(533.23,831.40) scale(1.1251,1)" font-size="8.309">4</text>
<text transform="translate(590.35,835.80) scale(1.0688,1)" font-size="13.037">10</text>
<text transform="translate(605.79,831.40) scale(1.1251,1)" font-size="8.309">5</text>
<text transform="translate(662.94,835.80) scale(1.0688,1)" font-size="13.037">10</text>
<text transform="translate(678.32,831.40) scale(1.1251,1)" font-size="8.309">6</text>
</svg></body></html>
